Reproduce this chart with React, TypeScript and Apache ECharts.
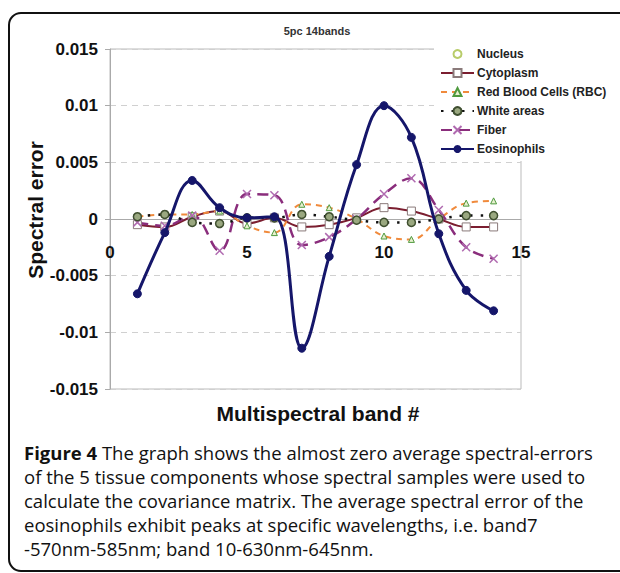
import React, { useEffect, useRef } from "react";
import * as echarts from "echarts";

const bands = [1, 2, 3, 4, 5, 6, 7, 8, 9, 10, 11, 12, 13, 14];
const xTicks = [0, 5, 10, 15];
const nucleus = [0.0002, 0.0004, -0.0003, -0.0004, 0.0001, 0.0001, 0.0004, 0.0002, -0.0001, -0.0003, -0.0003, 0.0, 0.0003, 0.0003];
const cytoplasm = [-0.0005, -0.0007, 0.0002, 0.0007, -0.0004, 0.0001, -0.0007, -0.0005, 0.0001, 0.001, 0.0007, 0.0, -0.0007, -0.0007];
const rbc = [0.0002, 0.0004, 0.0004, 0.0007, -0.0006, -0.0012, 0.0013, 0.001, 0.0, -0.0015, -0.0018, 0.0, 0.0014, 0.0016];
const whiteAreas = [0.0002, 0.0004, -0.0003, -0.0004, 0.0001, 0.0001, 0.0004, 0.0002, -0.0001, -0.0003, -0.0003, 0.0, 0.0003, 0.0003];
const fiber = [-0.0003, -0.0006, 0.0003, -0.0028, 0.0022, 0.0021, -0.0023, -0.0016, 0.0, 0.0022, 0.0036, 0.0008, -0.0025, -0.0035];
const eosinophils = [-0.0066, -0.0012, 0.0034, 0.001, 0.0001, 0.0002, -0.0114, -0.0033, 0.0048, 0.01, 0.0072, -0.0013, -0.0063, -0.0081];

const title = "5pc 14bands";
const yTitle = "Spectral error";
const xTitle = "Multispectral band #";
const captionBold = "Figure 4";
const captionLines = [
  " The graph shows the almost zero average spectral-errors",
  "of the 5 tissue components whose spectral samples were used to",
  "calculate the covariance matrix. The average spectral error of the",
  "eosinophils exhibit peaks at specific wavelengths, i.e. band7",
  "-570nm-585nm; band 10-630nm-645nm.",
];

const pts = (arr: number[]) => bands.map((b, i) => [b, arr[i]]);

export default function App() {
  const ref = useRef<HTMLDivElement>(null);
  useEffect(() => {
    document.body.style.margin = "0";
    const chart = echarts.init(ref.current!, null, { renderer: "svg" });
    const axisFont = { fontFamily: "Liberation Sans, Arial", fontWeight: "bold" as const, fontSize: 17, color: "#111" };
    const option: any = {
      animation: false,
      backgroundColor: "#fff",
      title: {
        text: title,
        left: 312,
        top: 20,
        textAlign: "center",
        textStyle: { fontFamily: "Liberation Sans, Arial", fontWeight: "bold", fontSize: 11, color: "#333" },
      },
      grid: { left: 110, right: 99, top: 49, bottom: 184, show: true, borderColor: "#bbb", borderWidth: 1, containLabel: false },
      xAxis: {
        type: "value",
        min: 0,
        max: 15,
        interval: 5,
        axisLine: { onZero: true, lineStyle: { color: "#aaa", width: 1 } },
        axisTick: { show: false },
        axisLabel: { ...axisFont, margin: -145, formatter: (v: number) => (xTicks.includes(v) ? String(v) : "") },
        splitLine: { show: false },
      },
      yAxis: {
        type: "value",
        min: -0.015,
        max: 0.015,
        interval: 0.005,
        axisLine: { show: true, onZero: false, lineStyle: { color: "#aaa" } },
        axisTick: { show: true, length: 5, lineStyle: { color: "#aaa" } },
        axisLabel: { ...axisFont, margin: 12, formatter: (v: number) => String(parseFloat(v.toFixed(3))) },
        splitLine: { show: true, lineStyle: { color: "#d0d0d0", type: [6, 5], width: 1 } },
      },
      legend: {
        orient: "vertical",
        left: 434,
        top: 41,
        padding: [7, 4, 6, 6],
        backgroundColor: "#fff",
        itemWidth: 33,
        itemHeight: 10,
        itemGap: 7,
        textStyle: { fontFamily: "Liberation Sans, Arial", fontWeight: "bold", fontSize: 12, color: "#222", padding: [0, 0, 0, -2] },
        data: ["Nucleus", "Cytoplasm", "Red Blood Cells (RBC)", "White areas", "Fiber", "Eosinophils"],
      },
      series: [
        {
          name: "Nucleus",
          type: "line",
          data: pts(nucleus),
          smooth: 0.4,
          lineStyle: { opacity: 0, width: 0 },
          symbol: "circle",
          symbolSize: 7,
          itemStyle: { color: "#fff", borderColor: "#b8cc6a", borderWidth: 1.5 },
          z: 2,
        },
        {
          name: "Cytoplasm",
          type: "line",
          data: pts(cytoplasm),
          smooth: 0.4,
          lineStyle: { color: "#7b1e30", width: 2 },
          symbol: "rect",
          symbolSize: 8,
          itemStyle: { color: "#fff", borderColor: "#8a7a7a", borderWidth: 1 },
          z: 3,
        },
        {
          name: "Red Blood Cells (RBC)",
          type: "line",
          data: pts(rbc),
          smooth: 0.4,
          lineStyle: { color: "#f08a3c", width: 2, type: [6, 5] },
          symbol: "triangle",
          symbolSize: 6,
          itemStyle: { color: "#e8f0d0", borderColor: "#4f9a3e", borderWidth: 1 },
          z: 3,
        },
        {
          name: "White areas",
          type: "line",
          data: pts(whiteAreas),
          smooth: 0.4,
          lineStyle: { color: "#111", width: 2.5, type: [2.5, 8] },
          symbol: "circle",
          symbolSize: 8,
          itemStyle: { color: "#9aa880", borderColor: "#3f4f30", borderWidth: 1.5 },
          z: 4,
        },
        {
          name: "Fiber",
          type: "line",
          data: pts(fiber),
          smooth: 0.4,
          lineStyle: { color: "#8a2d7c", width: 2.5, type: [11, 7] },
          symbol: "path://M0,0L10,10M10,0L0,10",
          symbolSize: 8,
          itemStyle: { color: "rgba(0,0,0,0)", borderColor: "#b06ab0", borderWidth: 1.5 },
          z: 3,
        },
        {
          name: "Eosinophils",
          type: "line",
          data: pts(eosinophils),
          smooth: 0.4,
          lineStyle: { color: "#15166a", width: 3 },
          symbol: "circle",
          symbolSize: 8,
          itemStyle: { color: "#15166a", borderColor: "#15166a" },
          z: 5,
        },
      ],
      graphic: [
        {
          type: "rect",
          shape: { x: 9, y: 13, width: 630, height: 558, r: 12 },
          style: { fill: "none", stroke: "#111", lineWidth: 2 },
          silent: true,
          z: 100,
        },
        {
          type: "text",
          x: 35,
          y: 210,
          rotation: Math.PI / 2,
          style: {
            text: yTitle,
            fontFamily: "Liberation Sans, Arial",
            fontWeight: "bold",
            fontSize: 21,
            fill: "#111",
            align: "center",
            verticalAlign: "middle",
          },
        },
        {
          type: "text",
          x: 318,
          y: 413,
          style: {
            text: xTitle,
            fontFamily: "Liberation Sans, Arial",
            fontWeight: "bold",
            fontSize: 21,
            fill: "#111",
            align: "center",
            verticalAlign: "middle",
          },
        },
        {
          type: "text",
          x: 24,
          y: 440,
          style: {
            text:
              "{b|" + captionBold + "}{n|" + captionLines[0] + "}\n" +
              captionLines.slice(1).map((l) => "{n|" + l + "}").join("\n"),
            rich: {
              b: { fontFamily: "Open Sans", fontWeight: "bold", fontSize: 18.5, lineHeight: 24, fill: "#111" },
              n: { fontFamily: "Open Sans", fontSize: 18.5, lineHeight: 24, fill: "#111" },
            },
            fill: "#111",
            align: "left",
            verticalAlign: "top",
          },
        },
      ],
    };
    chart.setOption(option);
    return () => chart.dispose();
  }, []);
  return <div ref={ref} style={{ width: 620, height: 573 }} />;
}
